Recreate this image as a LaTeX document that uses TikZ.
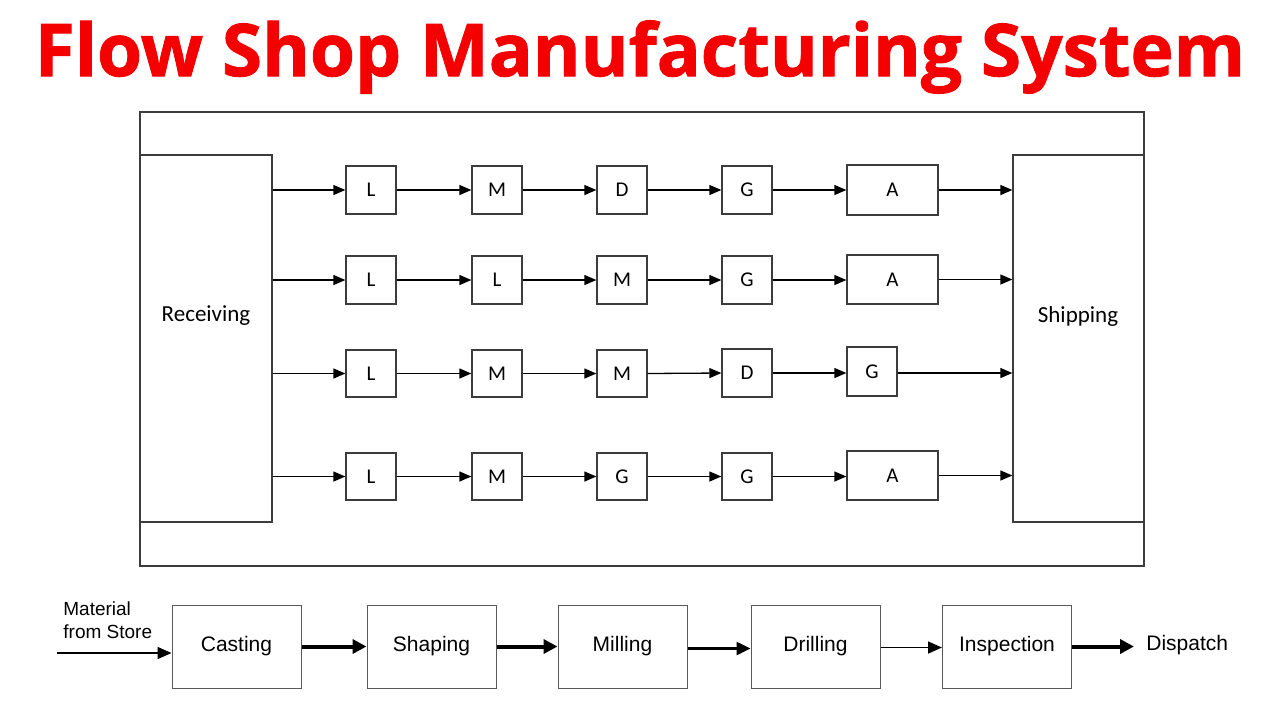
\documentclass[tikz,border=0pt]{standalone}
\usepackage{fontspec}
\usetikzlibrary{arrows.meta}
\newfontfamily\carlito{Carlito}
\newfontfamily\arialf{Liberation Sans}
\newfontfamily\titlef[BoldFeatures={FakeBold=1.2}]{Open Sans}
\definecolor{titlered}{RGB}{245,0,0}
\definecolor{lineg}{RGB}{60,60,60}
\begin{document}
\begin{tikzpicture}[x=0.5pt,y=-0.5pt,
  mbox/.style={draw=lineg,line width=0.65pt,minimum width=25pt,minimum height=24pt,inner sep=0pt,font=\carlito\fontsize{10.5}{12}\selectfont},
  wbox/.style={mbox,minimum width=45.5pt,minimum height=25pt},
  bigbox/.style={draw=lineg,line width=0.65pt,minimum width=66pt,minimum height=183.5pt,inner sep=0pt},
  biglabel/.style={inner sep=0pt,font=\carlito\fontsize{11.5}{13}\selectfont},
  arr/.style={-{Triangle[length=6pt,width=5pt]},line width=0.65pt,black},
  pbox/.style={draw=black!65,line width=0.5pt,minimum width=64.5pt,minimum height=41.5pt,inner sep=0pt,font=\arialf\fontsize{10.5}{12}\selectfont},
  thickarr/.style={-{Triangle[length=7pt,width=7pt]},line width=2pt,black},
  medarr/.style={-{Triangle[length=7pt,width=6.5pt]},line width=1.3pt,black},
  thinarr/.style={-{Triangle[length=7pt,width=6pt]},line width=0.8pt,black}
]
\useasboundingbox (0,0) rectangle (1280,720);
\fill[white] (0,0) rectangle (1280,720);
% title
\node[text=titlered,inner sep=0pt] (title) at (640,57) {\resizebox{605pt}{!}{\titlef\bfseries Flow Shop Manufacturing System}};
% frame
\draw[lineg,line width=0.65pt] (140,112) rectangle (1144,566);
\node[bigbox] (rec) at (206,338.5) {};
\node[bigbox,minimum width=65.5pt] (ship) at (1078.5,338.5) {};
\node[biglabel] (reclab) at (206,316) {Receiving};
\node[biglabel] (shiplab) at (1078,316) {Shipping};
% row 1
\node[mbox] (a1) at (371,190) {L};
\node[mbox] (a2) at (497,190) {M};
\node[mbox] (a3) at (622,190) {D};
\node[mbox] (a4) at (747,190) {G};
\node[wbox] (a5) at (892.5,190) {A};
% row 2
\node[mbox] (b1) at (371,280) {L};
\node[mbox] (b2) at (497,280) {L};
\node[mbox] (b3) at (622,280) {M};
\node[mbox] (b4) at (747,280) {G};
\node[wbox,minimum height=24.5pt] (b5) at (892.5,279.5) {A};
% row 3
\node[mbox,minimum height=23.5pt] (c1) at (371,373.5) {L};
\node[mbox,minimum height=23.5pt] (c2) at (497,373.5) {M};
\node[mbox,minimum height=23.5pt] (c3) at (622,373.5) {M};
\node[mbox] (c4) at (747,373) {D};
\node[mbox,minimum height=24.5pt] (c5) at (872,371.5) {G};
% row 4
\node[mbox,minimum height=23.5pt] (d1) at (371,476.5) {L};
\node[mbox,minimum height=23.5pt] (d2) at (497,476.5) {M};
\node[mbox,minimum height=23.5pt] (d3) at (622,476.5) {G};
\node[mbox,minimum height=23.5pt] (d4) at (747,476.5) {G};
\node[wbox,minimum height=24.5pt] (d5) at (892.5,475.5) {A};
% arrows
\foreach \r in {a,b,c,d}{
  \draw[arr] (rec.east |- \r1.west) -- (\r1.west);
  \draw[arr] (\r1.east) -- (\r2.west);
  \draw[arr] (\r2.east) -- (\r3.west);
  \draw[arr] (\r3.east) -- (\r4.west);
  \draw[arr] (\r4.east) -- (\r5.west |- \r4.east);
}
\draw[arr] (a5.east) -- (ship.west |- a5.east);
\draw[arr] (b5.east) -- (ship.west |- b5.east);
\draw[arr] (c5.east |- c4.east) -- (ship.west |- c4.east);
\draw[arr] (d5.east) -- (ship.west |- d5.east);
% bottom process
\node[pbox] (cast) at (236.5,646.5) {Casting};
\node[pbox] (shap) at (431.5,646.5) {Shaping};
\node[pbox] (mill) at (622.5,646.5) {Milling};
\node[pbox] (dril) at (815.5,646.5) {Drilling};
\node[pbox] (insp) at (1007,646.5) {Inspection};
\node[anchor=north west,align=left,inner sep=0pt,font=\arialf\fontsize{9.5}{11.5}\selectfont] (mat) at (63,601) {Material\\from Store};
\node[anchor=west,inner sep=0pt,font=\arialf\fontsize{10.5}{12}\selectfont] (disp) at (1146,645) {Dispatch};
\coordinate (start) at (57,653);
\draw[thinarr] (start) -- (cast.west |- start);
\draw[thickarr] (cast.east) -- (shap.west);
\draw[thickarr] (shap.east) -- (mill.west);
\draw[medarr] ([yshift=-1pt]mill.east) -- ([yshift=-1pt]dril.west);
\draw[thinarr] ([yshift=-0.5pt]dril.east) -- ([yshift=-0.5pt]insp.west);
\draw[thickarr] (insp.east) -- ([xshift=-6pt]disp.west |- insp.east);
\end{tikzpicture}
\end{document}
